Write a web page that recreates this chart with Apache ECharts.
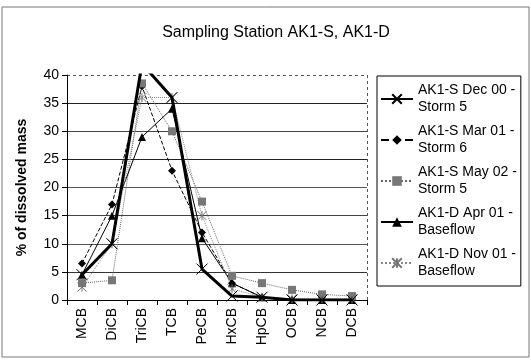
<!DOCTYPE html>
<html>
<head>
<meta charset="utf-8">
<script src="https://cdn.jsdelivr.net/npm/echarts@6/dist/echarts.min.js"></script>
<style>
  html, body { margin: 0; padding: 0; background: #fff; }
  #main { width: 531px; height: 360px; }
</style>
</head>
<body>
<div id="main"></div>
<script>
// categories (PCB homologs)
var categories = ['MCB', 'DiCB', 'TriCB', 'TCB', 'PeCB', 'HxCB', 'HpCB', 'OCB', 'NCB', 'DCB'];

// % of dissolved mass
var dec00 = [4.5, 10, 42, 36, 5.5, 0.7, 0.5, 0, 0, 0];
var mar01 = [6.5, 17, 38, 23, 12, 3, 0.5, 0, 0, 0];
var may02 = [3, 3.5, 38.5, 30, 17.5, 4.3, 3, 1.8, 1, 0.7];
var apr01 = [4.5, 15, 29, 34, 11, 3, 0.5, 0, 0, 0];
var nov01 = [2.3, 10, 36, 36, 15, 2, 0.5, 0.2, 0.2, 0.2];

var names = [
    'AK1-S Dec 00 -\nStorm 5',
    'AK1-S Mar 01 -\nStorm 6',
    'AK1-S May 02 -\nStorm 5',
    'AK1-D Apr 01 -\nBaseflow',
    'AK1-D Nov 01 -\nBaseflow'
];

var xMark = 'path://M0,0L10,10M10,0L0,10';
var starMark = 'path://M0,0L10,10M10,0L0,10M5,0L5,10';

var chart = echarts.init(document.getElementById('main'));

chart.setOption({
    backgroundColor: '#fff',
    animation: false,
    textStyle: { fontFamily: 'Liberation Sans, Arial, sans-serif' },
    title: {
        text: 'Sampling Station AK1-S, AK1-D',
        left: 271,
        textAlign: 'center',
        top: 20,
        textStyle: { fontSize: 16, fontWeight: 'normal', color: '#000' }
    },
    graphic: [{
        type: 'rect',
        shape: { x: 2, y: 7, width: 527, height: 350 },
        style: { fill: 'none', stroke: '#777', lineWidth: 1 },
        silent: true,
        z: -1
    }, {
        type: 'line',
        shape: { x1: 67, y1: 75.5, x2: 367, y2: 75.5 },
        style: { stroke: '#555', lineWidth: 1, lineDash: [3, 3] },
        silent: true
    }, {
        type: 'line',
        shape: { x1: 367.5, y1: 75, x2: 367.5, y2: 300 },
        style: { stroke: '#555', lineWidth: 1, lineDash: [3, 3] },
        silent: true
    }],
    legend: {
        orient: 'vertical',
        left: 377,
        top: 76,
        width: 153,
        padding: [6, 4, 6, 3],
        itemGap: 7,
        itemWidth: 32,
        itemHeight: 12,
        borderColor: '#000',
        borderWidth: 1,
        textStyle: { fontSize: 14, color: '#000', lineHeight: 17 },
        data: names
    },
    grid: { left: 67, right: 164, top: 75, bottom: 60 },
    xAxis: {
        type: 'category',
        data: categories,
        boundaryGap: true,
        axisLine: { lineStyle: { color: '#000' } },
        axisTick: { show: true, alignWithLabel: false, lineStyle: { color: '#000' } },
        axisLabel: { rotate: 90, color: '#000', fontSize: 14, margin: 8 },
        splitLine: { show: false }
    },
    yAxis: {
        type: 'value',
        min: 0,
        max: 40,
        interval: 5,
        name: '% of dissolved mass',
        nameLocation: 'middle',
        nameGap: 38,
        nameTextStyle: { fontSize: 14, fontWeight: 'bold', color: '#000' },
        axisLine: { show: true, lineStyle: { color: '#000' } },
        axisTick: { show: true, lineStyle: { color: '#000' } },
        axisLabel: { color: '#000', fontSize: 14, margin: 8 },
        splitLine: {
            show: true,
            lineStyle: {
                color: ['rgba(0,0,0,0)', '#333', '#555', '#444', '#555', '#222', '#444', '#222', 'rgba(0,0,0,0)'],
                width: 1
            }
        }
    },
    series: [
        {
            name: names[0], type: 'line', data: dec00,
            symbol: xMark, symbolSize: 11,
            lineStyle: { color: '#000', width: 3 },
            itemStyle: { color: 'none', borderColor: '#000', borderWidth: 1 },
            z: 5
        },
        {
            name: names[1], type: 'line', data: mar01,
            symbol: 'diamond', symbolSize: 8,
            lineStyle: { color: '#000', width: 1, type: 'dashed' },
            itemStyle: { color: '#000' }
        },
        {
            name: names[2], type: 'line', data: may02,
            symbol: 'rect', symbolSize: 8,
            lineStyle: { color: '#666', width: 1, type: 'dotted' },
            itemStyle: { color: '#777' }
        },
        {
            name: names[3], type: 'line', data: apr01,
            symbol: 'triangle', symbolSize: 8,
            lineStyle: { color: '#000', width: 1 },
            itemStyle: { color: '#000' }
        },
        {
            name: names[4], type: 'line', data: nov01,
            symbol: starMark, symbolSize: 9,
            lineStyle: { color: '#888', width: 1, type: 'dotted' },
            itemStyle: { color: 'none', borderColor: '#777', borderWidth: 1 }
        }
    ]
});
</script>
</body>
</html>
